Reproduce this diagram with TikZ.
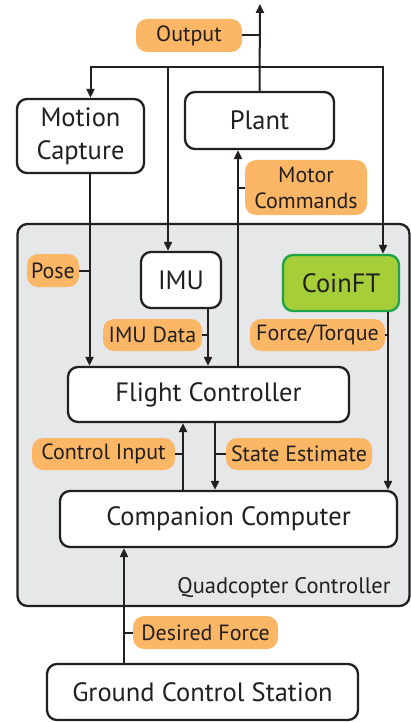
\documentclass[tikz,border=0pt]{standalone}
\usepackage{fontspec}
\setmainfont{PT Sans}
\usepackage{xcolor}
\usepackage{tikz}
\usetikzlibrary{arrows.meta, positioning, backgrounds}

\definecolor{inkgray}{HTML}{231F20}
\definecolor{panelgray}{HTML}{E6E7E8}
\definecolor{tagorange}{HTML}{FBB666}
\definecolor{coingreen}{HTML}{A5CE39}
\definecolor{coinedge}{HTML}{1EA347}

\begin{document}
\begin{tikzpicture}[x=1pt, y=-1pt,
        block/.style={
            rectangle, draw=inkgray, fill=white, line width=2.3pt,
            rounded corners=10pt, text=inkgray, align=center,
            font=\fontsize{26.5}{33}\selectfont, inner sep=0pt
        },
        tag/.style={
            rectangle, fill=tagorange, rounded corners=11pt,
            text=inkgray, align=center, inner sep=0pt,
            font=\fontsize{22}{26}\selectfont
        },
        flow/.style={draw=inkgray, line width=2pt,
            -{Triangle[length=9pt, width=8pt]}},
        link/.style={draw=inkgray, line width=2pt}
    ]
        \useasboundingbox (0,0) rectangle (411,722);

        % controller panel
        \node[rectangle, draw=inkgray, fill=panelgray, line width=2.3pt,
              rounded corners=10pt, minimum width=392pt, minimum height=382pt,
              inner sep=0pt] (panel) at (213.5,415) {};
        \node[anchor=base east, text=inkgray,
              font=\fontsize{22.5}{26}\selectfont] (panellabel) at (394,593)
              {Quadcopter Controller};

        % blocks
        \node[block, minimum width=127pt, minimum height=74pt] (mocap) at (80.5,136) {Motion\\Capture};
        \node[block, minimum width=149pt, minimum height=57pt] (plant) at (259.5,120.5) {Plant};
        \node[block, minimum width=80pt, minimum height=56pt] (imu) at (181,280) {IMU};
        \node[block, draw=coinedge, fill=coingreen, minimum width=116pt,
              minimum height=56pt] (coinft) at (341,283) {CoinFT};
        \node[block, minimum width=281pt, minimum height=55pt] (fc) at (208.5,394.5) {Flight Controller};
        \node[block, minimum width=337pt, minimum height=56pt] (cc) at (228.5,519) {Companion Computer};
        \node[block, minimum width=311pt, minimum height=56pt] (gcs) at (202.5,692) {Ground Control Station};

        % signal tags
        \node[tag, minimum width=106pt, minimum height=33pt] (output) at (189,35.5) {Output};
        \node[tag, minimum width=122pt, minimum height=55pt] (motorcmd) at (306,187.5) {Motor\\Commands};
        \node[tag, minimum width=52pt, minimum height=33pt] (pose) at (53,270.5) {Pose};
        \node[tag, minimum width=99pt, minimum height=32pt] (imudata) at (152.5,335) {IMU Data};
        \node[tag, minimum width=135pt, minimum height=32pt] (forcetorque) at (317.5,335) {Force/Torque};
        \node[tag, minimum width=143pt, minimum height=32pt] (ctrlinput) at (103.5,454) {Control Input};
        \node[tag, minimum width=146pt, minimum height=32pt] (stateest) at (299,454) {State Estimate};
        \node[tag, minimum width=145pt, minimum height=33pt] (desforce) at (205.5,632.5) {Desired Force};

        \coordinate (top) at (260,4);
        \coordinate (split) at (260,67);
        \coordinate (mocapout) at ([xshift=9pt]mocap.south);
        \coordinate (imuout) at ([xshift=27pt]imu.south);
        \coordinate (coinout) at ([xshift=47pt]coinft.south);
        \coordinate (motorline) at (238,0);
        \coordinate (ctrlline) at (183,0);
        \coordinate (stateline) at (215,0);
        \coordinate (gcsline) at (124,0);

        % plant output and feedback
        \draw[flow] (plant.north) -- (top);
        \draw[link] (output.east) -- (output.east -| top);
        \draw[flow] (split) -| ([xshift=10pt]mocap.north);
        \draw[flow] (split) -| ([xshift=-13pt]imu.north);
        \draw[flow] (split) -| ([xshift=42pt]coinft.north);

        % into flight controller
        \draw[flow] (mocapout) -- (mocapout |- fc.north);
        \draw[link] (pose.east) -- (pose.east -| mocapout);
        \draw[flow] (imuout) -- (imuout |- fc.north);
        \draw[link] (imudata.east) -- (imudata.east -| imuout);

        % motor commands
        \draw[flow] (fc.north -| motorline) -- (plant.south -| motorline);
        \draw[link] (motorcmd.west) -- (motorcmd.west -| motorline);

        % force sensing
        \draw[flow] (coinout) -- (coinout |- cc.north);
        \draw[link] (forcetorque.east) -- (forcetorque.east -| coinout);

        % companion computer exchange
        \draw[flow] (cc.north -| ctrlline) -- (fc.south -| ctrlline);
        \draw[link] (ctrlinput.east) -- (ctrlinput.east -| ctrlline);
        \draw[flow] (fc.south -| stateline) -- (cc.north -| stateline);
        \draw[link] (stateest.west) -- (stateest.west -| stateline);

        % ground station
        \draw[flow] (gcs.north -| gcsline) -- (cc.south -| gcsline);
        \draw[link] (desforce.west) -- (desforce.west -| gcsline);
    \end{tikzpicture}
\end{document}
